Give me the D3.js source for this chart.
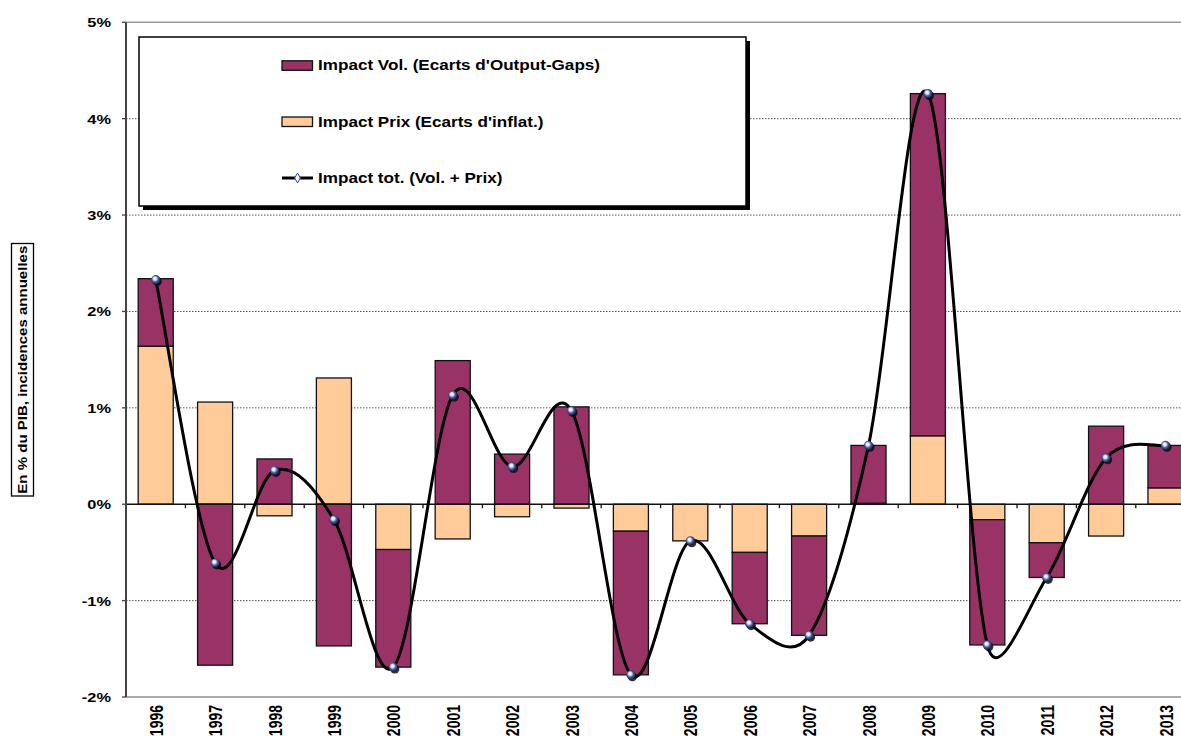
<!DOCTYPE html>
<html>
<head>
<meta charset="utf-8">
<script src="https://d3js.org/d3.v7.min.js"></script>
<style>
  html, body { margin: 0; padding: 0; background: #fff; }
  svg { display: block; font-family: Arial, "Liberation Sans", sans-serif; font-weight: bold; }
</style>
</head>
<body>
<svg id="chart" width="1181" height="738"></svg>
<script>
// Years on the category axis
const years = ["1996","1997","1998","1999","2000","2001","2002","2003","2004","2005",
               "2006","2007","2008","2009","2010","2011","2012","2013"];
// Price impact (inflation gaps), % of GDP
const impactPrix = [1.64, 1.06, -0.12, 1.31, -0.47, -0.36, -0.13, -0.04, -0.28, -0.38,
                    -0.50, -0.33, 0.01, 0.71, -0.16, -0.40, -0.33, 0.17];
// Volume impact (output-gap differences), % of GDP
const impactVol = [0.70, -1.67, 0.47, -1.47, -1.22, 1.49, 0.52, 1.01, -1.49, 0.00,
                   -0.74, -1.03, 0.60, 3.55, -1.30, -0.36, 0.81, 0.44];
// Total impact (volume + price)
const impactTot = [2.33, -0.61, 0.35, -0.16, -1.69, 1.13, 0.39, 0.97, -1.77, -0.38,
                   -1.24, -1.36, 0.61, 4.26, -1.46, -0.76, 0.48, 0.61];
// Y-axis ticks (%)
const yTicks = [-2, -1, 0, 1, 2, 3, 4, 5];
const legendLabels = ["Impact Vol. (Ecarts d'Output-Gaps)", "Impact Prix (Ecarts d'inflat.)", "Impact tot. (Vol. + Prix)"];
const yTitle = "En % du PIB, incidences annuelles";

const colVol = "#993366", colPrix = "#FFCC99";
const svg = d3.select("#chart");

const step = 59.4, x0 = 126;
const x = d3.scaleBand().domain(years)
  .range([x0, x0 + step * years.length])
  .paddingInner(0.41).paddingOuter(0.205);
const y = d3.scaleLinear().domain([-2, 5]).range([697, 22.3]);

// Smoothed line: Catmull-Rom style Bezier whose handles are capped
// at a fraction of the segment they belong to (limits overshoot).
function smoothCapped(k) {
  return function (context) {
    return {
      areaStart() {}, areaEnd() {},
      lineStart() { this._p = []; },
      point(px, py) { this._p.push([+px, +py]); },
      lineEnd() {
        const p = this._p, n = p.length;
        if (!n) return;
        context.moveTo(p[0][0], p[0][1]);
        const tan = i => {
          const a = p[Math.max(0, i - 1)], b = p[Math.min(n - 1, i + 1)];
          return [(b[0] - a[0]) / 6, (b[1] - a[1]) / 6];
        };
        const cap = (t, len) => {
          const l = Math.hypot(t[0], t[1]), m = k * len;
          return l > m && l > 0 ? [t[0] * m / l, t[1] * m / l] : t;
        };
        for (let i = 0; i < n - 1; i++) {
          const a = p[i], b = p[i + 1];
          const seg = Math.hypot(b[0] - a[0], b[1] - a[1]);
          const t1 = cap(tan(i), seg), t2 = cap(tan(i + 1), seg);
          context.bezierCurveTo(a[0] + t1[0], a[1] + t1[1], b[0] - t2[0], b[1] - t2[1], b[0], b[1]);
        }
      }
    };
  };
}

// gradient for the spherical markers
const defs = svg.append("defs");
const g = defs.append("radialGradient").attr("id", "sphere")
  .attr("cx", "45%").attr("cy", "45%").attr("r", "60%").attr("fx", "40%").attr("fy", "35%");
g.append("stop").attr("offset", "0%").attr("stop-color", "#ffffff");
g.append("stop").attr("offset", "28%").attr("stop-color", "#dbe4fb");
g.append("stop").attr("offset", "58%").attr("stop-color", "#4c5b9c");
g.append("stop").attr("offset", "100%").attr("stop-color", "#0c1030");

const xEnd = 1181;

// gridlines
svg.append("g").selectAll("line").data(yTicks.filter(t => t !== 0 && t !== 5 && t !== -2)).join("line")
  .attr("x1", x0).attr("x2", xEnd).attr("y1", d => y(d)).attr("y2", d => y(d))
  .attr("stroke", "#555").attr("stroke-width", 1).attr("stroke-dasharray", "1.5,1.5");
// top and bottom frame lines
svg.append("line").attr("x1", x0).attr("x2", xEnd).attr("y1", y(5)).attr("y2", y(5))
  .attr("stroke", "#999").attr("stroke-width", 1.5);
svg.append("line").attr("x1", x0).attr("x2", xEnd).attr("y1", y(-2)).attr("y2", y(-2))
  .attr("stroke", "#aaa").attr("stroke-width", 2);

// stacked bars
const rows = years.map((yr, i) => ({ year: yr, prix: impactPrix[i], vol: impactVol[i] }));
const series = d3.stack().keys(["prix", "vol"]).offset(d3.stackOffsetDiverging)(rows);
const colors = { prix: colPrix, vol: colVol };
svg.append("g").selectAll("g").data(series).join("g")
  .attr("fill", d => colors[d.key])
  .selectAll("rect").data(d => d.filter(s => s[1] - s[0] !== 0)).join("rect")
  .attr("x", d => x(d.data.year))
  .attr("width", x.bandwidth())
  .attr("y", d => y(Math.max(d[0], d[1])))
  .attr("height", d => Math.abs(y(d[0]) - y(d[1])))
  .attr("stroke", "#111").attr("stroke-width", 1.3);

// zero axis with category tick marks
svg.append("line").attr("x1", x0).attr("x2", xEnd).attr("y1", y(0)).attr("y2", y(0))
  .attr("stroke", "#111").attr("stroke-width", 1.5);
svg.append("g").selectAll("line").data(d3.range(1, years.length)).join("line")
  .attr("x1", i => x0 + i * step).attr("x2", i => x0 + i * step)
  .attr("y1", y(0)).attr("y2", y(0) + 4)
  .attr("stroke", "#111").attr("stroke-width", 1.3);

// left axis
svg.append("line").attr("x1", x0).attr("x2", x0).attr("y1", y(5)).attr("y2", y(-2))
  .attr("stroke", "#444").attr("stroke-width", 2);
svg.append("g").selectAll("line").data(yTicks).join("line")
  .attr("x1", x0 - 4).attr("x2", x0).attr("y1", d => y(d)).attr("y2", d => y(d))
  .attr("stroke", "#444").attr("stroke-width", 1.3);
svg.append("g").selectAll("text").data(yTicks).join("text")
  .attr("transform", d => `translate(111,${y(d) + 5}) scale(1.3,1)`)
  .attr("text-anchor", "end").attr("font-size", 12.6).attr("fill", "#000")
  .text(d => d + "%");

// category labels
svg.append("g").selectAll("text").data(years).join("text")
  .attr("transform", d => `translate(${x(d) + x.bandwidth() / 2 + 7},705) scale(1.33,1) rotate(-90)`)
  .attr("text-anchor", "end").attr("font-size", 14).attr("fill", "#000")
  .text(d => d);

// total line
const pts = years.map((yr, i) => [x(yr) + x.bandwidth() / 2, y(impactTot[i])]);
svg.append("path").datum(pts)
  .attr("d", d3.line().curve(smoothCapped(0.5)))
  .attr("fill", "none").attr("stroke", "#000").attr("stroke-width", 3);
const mk = svg.append("g").selectAll("g").data(pts).join("g")
  .attr("transform", d => `translate(${d[0]},${d[1]})`);
mk.append("circle").attr("cx", 1.5).attr("cy", 1.8).attr("r", 4.6).attr("fill", "#0a0a14").attr("opacity", 0.85);
mk.append("circle").attr("r", 4.6).attr("fill", "url(#sphere)");

// legend
const lg = svg.append("g");
lg.append("rect").attr("x", 143).attr("y", 41).attr("width", 607).attr("height", 169).attr("fill", "#000");
lg.append("rect").attr("x", 139).attr("y", 37).attr("width", 607).attr("height", 169)
  .attr("fill", "#fff").attr("stroke", "#000").attr("stroke-width", 1.5);
const rowsY = [65.5, 121.7, 178];
lg.append("rect").attr("x", 282).attr("y", rowsY[0] - 4.7).attr("width", 30.5).attr("height", 9.5)
  .attr("fill", colVol).attr("stroke", "#111").attr("stroke-width", 1.3);
lg.append("rect").attr("x", 282).attr("y", rowsY[1] - 4.7).attr("width", 30.5).attr("height", 9.5)
  .attr("fill", colPrix).attr("stroke", "#111").attr("stroke-width", 1.3);
lg.append("line").attr("x1", 282).attr("x2", 313).attr("y1", rowsY[2]).attr("y2", rowsY[2])
  .attr("stroke", "#000").attr("stroke-width", 3);
lg.append("path").attr("d", d3.symbol(d3.symbolDiamond, 28)())
  .attr("transform", `translate(297.5,${rowsY[2]})`)
  .attr("fill", "#fff").attr("stroke", "#2244cc").attr("stroke-width", 1);
lg.selectAll("text.lbl").data(legendLabels).join("text").attr("class", "lbl")
  .attr("transform", (d, i) => `translate(318,${rowsY[i] + 4.8}) scale(1.14,1)`)
  .attr("font-size", 15).attr("fill", "#000")
  .text(d => d);

// y-axis title in a box
svg.append("rect").attr("x", 11.5).attr("y", 243.5).attr("width", 22).attr("height", 252.5)
  .attr("fill", "#fff").attr("stroke", "#000").attr("stroke-width", 1.3);
svg.append("text")
  .attr("transform", "translate(27,369.7) rotate(-90)")
  .attr("text-anchor", "middle").attr("font-size", 13).attr("fill", "#000")
  .attr("textLength", 248).attr("lengthAdjust", "spacingAndGlyphs")
  .text(yTitle);
</script>
</body>
</html>
